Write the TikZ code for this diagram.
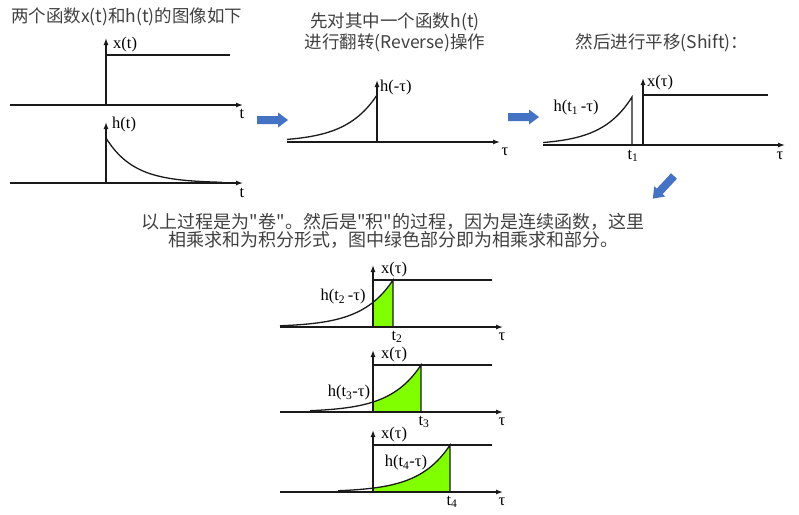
\documentclass[tikz,border=0pt]{standalone}
\usepackage{fontspec}
\setmainfont{Noto Sans CJK SC}
\newfontfamily\lab{Liberation Serif}
\usetikzlibrary{arrows.meta}
\definecolor{txt}{HTML}{404040}
\definecolor{arrblue}{HTML}{4472C4}
\definecolor{limefill}{RGB}{128,255,0}
\definecolor{ink}{HTML}{1A1A1A}
\tikzset{
  axis/.style={draw=ink,line width=1.3pt,-{Latex[length=7pt,width=5pt]}},
  curve/.style={draw=ink,line width=1.3pt},
  lbl/.style={font=\lab\fontsize{16.5}{16.5}\selectfont,inner sep=0pt},
  ttl/.style={font=\fontsize{17.5}{21}\selectfont,text=txt,inner sep=0pt,align=center},
  bluearrow/.pic={\fill[arrblue] (0,-4) -- (21,-4) -- (21,-7.5) -- (31,0) -- (21,7.5) -- (21,4) -- (0,4) -- cycle;}
}
\begin{document}
\begin{tikzpicture}[x=1pt,y=-1pt]
\useasboundingbox (0,0) rectangle (799,514);
% titles
\node[ttl,anchor=west] (t1) at (11,17) {两个函数x(t)和h(t)的图像如下};
\node[ttl] (t2) at (395,32) {先对其中一个函数h(t)\\进行翻转(Reverse)操作};
\node[ttl] (t3) at (662,43) {然后进行平移(Shift)：};
\node[ttl,font=\fontsize{18}{18.5}\selectfont] (t4) at (393,231) {以上过程是为\textquotedbl 卷\textquotedbl 。然后是\textquotedbl 积\textquotedbl 的过程，因为是连续函数，这里\\相乘求和为积分形式，图中绿色部分即为相乘求和部分。};
% blue arrows
\pic (a1) at (257,120) {bluearrow};
\pic (a2) at (508,117) {bluearrow};
\pic[rotate=227] (a3) at (674,176) {bluearrow};
% plot x(t)
\draw[axis] (10,105) -- (243,105);
\draw[axis] (106,105) -- (106,38);
\draw[curve] (106,55) -- (230,55);
\node[lbl,anchor=west] (lx) at (113,45) {x(t)};
\node[lbl] (lt1) at (242,114) {t};
% plot h(t)
\draw[axis] (10,183) -- (243,183);
\draw[axis] (106,183) -- (106,122);
\draw[curve] plot[domain=106:222,samples=60] (\x,{183-45*exp(-(\x-106)/28)});
\node[lbl,anchor=west] (lh) at (112,125) {h(t)};
\node[lbl] (lt2) at (242,193) {t};
% plot h(-tau)
\draw[axis] (287,142) -- (500,142);
\draw[axis] (377,142) -- (377,80);
\draw[curve] plot[domain=287:377,samples=60] (\x,{142-47*exp((\x-377)/31)});
\node[lbl,anchor=west] (lhm) at (380,88) {h(-τ)};
\node[lbl] (ltau1) at (505,152) {τ};
% plot shift
\draw[axis] (543,145) -- (785,145);
\draw[curve] plot[domain=543:632,samples=60] (\x,{145-48*exp((\x-632)/30)}) -- (632,145);
\draw[axis] (643,145) -- (643,78);
\draw[curve] (643,95) -- (768,95);
\node[lbl,anchor=west] (lxs) at (647,83) {x(τ)};
\node[lbl] (lhs) at (576,108) {h(t\textsubscript{1}\,-τ)};
\node[lbl] (lts) at (633,156) {t\textsubscript{1}};
\node[lbl] (ltau2) at (780,156) {τ};
% bottom A
\fill[limefill] (373,327) -- plot[domain=373:393,samples=30] (\x,{327-47*exp((\x-393)/31)}) -- (393,327) -- cycle;
\draw[axis] (280,327) -- (503,327);
\draw[axis] (373,327) -- (373,265);
\draw[curve] (373,280) -- (492,280);
\draw[curve] plot[domain=280:393,samples=60] (\x,{327-47*exp((\x-393)/31)}) -- (393,327);
\node[lbl,anchor=west] (lxa) at (381,270) {x(τ)};
\node[lbl] (lha) at (343,297) {h(t\textsubscript{2}\,-τ)};
\node[lbl] (lta) at (397,337) {t\textsubscript{2}};
\node[lbl] (ltaua) at (502,337) {τ};
% bottom B
\fill[limefill] (373,412) -- plot[domain=373:421,samples=40] (\x,{412-47*exp((\x-421)/31)}) -- (421,412) -- cycle;
\draw[axis] (280,412) -- (503,412);
\draw[axis] (373,412) -- (373,350);
\draw[curve] (373,365) -- (492,365);
\draw[curve] plot[domain=310:421,samples=60] (\x,{412-47*exp((\x-421)/31)}) -- (421,412);
\node[lbl,anchor=west] (lxb) at (381,355) {x(τ)};
\node[lbl] (lhb) at (349,393) {h(t\textsubscript{3}-τ)};
\node[lbl] (ltb) at (424,422) {t\textsubscript{3}};
\node[lbl] (ltaub) at (502,422) {τ};
% bottom C
\fill[limefill] (373,492) -- plot[domain=373:450,samples=50] (\x,{492-47*exp((\x-450)/31)}) -- (450,492) -- cycle;
\draw[axis] (280,492) -- (503,492);
\draw[axis] (373,492) -- (373,430);
\draw[curve] (373,445) -- (492,445);
\draw[curve] plot[domain=338:450,samples=60] (\x,{492-47*exp((\x-450)/31)}) -- (450,492);
\node[lbl,anchor=west] (lxc) at (381,435) {x(τ)};
\node[lbl] (lhc) at (406,463) {h(t\textsubscript{4}-τ)};
\node[lbl] (ltc) at (452,502) {t\textsubscript{4}};
\node[lbl] (ltauc) at (502,502) {τ};
\end{tikzpicture}
\end{document}
